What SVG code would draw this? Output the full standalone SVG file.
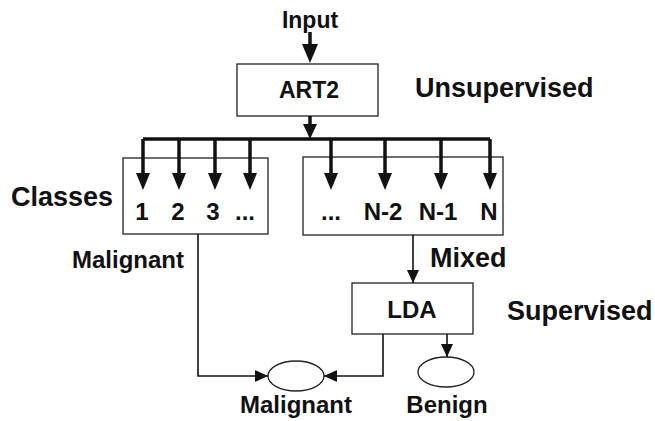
<svg xmlns="http://www.w3.org/2000/svg" width="655" height="421" viewBox="0 0 655 421">
  <style>
    text { font-family: "Liberation Sans", Arial, sans-serif; font-weight: bold; fill: #111; }
    .box { fill: #fff; stroke: #222; stroke-width: 1.3; }
    .thick { stroke: #111; stroke-width: 3.5; fill: none; }
    .thin { stroke: #111; stroke-width: 1.6; fill: none; }
    .head { fill: #111; }
    .lbl { font-size: 27px; }
    .num { font-size: 24px; text-anchor: middle; }
  </style>
  <defs>
    <marker id="small" markerUnits="userSpaceOnUse" markerWidth="14" markerHeight="14" refX="13" refY="6" orient="auto" viewBox="0 0 14 12">
      <path d="M0,0 L13,6 L0,12 Z" class="head"/>
    </marker>
  </defs>

  <g id="input">
    <text x="310" y="28" text-anchor="middle" font-size="23">Input</text>
  </g>

  <g id="art2">
    <rect x="237" y="64" width="141" height="52" class="box"/>
    <text x="309" y="98" text-anchor="middle" font-size="23">ART2</text>
  </g>

  <g id="unsupervised">
    <text x="415" y="97" class="lbl">Unsupervised</text>
  </g>

  <g id="classes-label">
    <text x="11" y="206" class="lbl">Classes</text>
  </g>

  <g id="classes-left">
    <rect x="123" y="158" width="145" height="76" class="box"/>
    <text x="142" y="220" class="num">1</text>
    <text x="178" y="220" class="num">2</text>
    <text x="213" y="220" class="num">3</text>
    <text x="245" y="220" class="num">...</text>
  </g>

  <g id="classes-right">
    <rect x="303" y="157" width="200" height="78" class="box"/>
    <text x="331" y="220" class="num">...</text>
    <text x="383" y="220" class="num">N-2</text>
    <text x="438" y="220" class="num">N-1</text>
    <text x="489" y="220" class="num">N</text>
  </g>

  <g id="malignant-label">
    <text x="72" y="268" font-size="24">Malignant</text>
  </g>

  <g id="mixed-label">
    <text x="430" y="267" class="lbl">Mixed</text>
  </g>

  <g id="lda">
    <rect x="352" y="283" width="121" height="51" class="box"/>
    <text x="412" y="318" text-anchor="middle" font-size="24">LDA</text>
  </g>

  <g id="supervised">
    <text x="507" y="320" class="lbl">Supervised</text>
  </g>

  <g id="malignant-out">
    <ellipse cx="296" cy="376" rx="28" ry="15" class="box"/>
    <text x="296" y="413" text-anchor="middle" font-size="24">Malignant</text>
  </g>

  <g id="benign-out">
    <ellipse cx="446" cy="372" rx="28" ry="15" class="box"/>
    <text x="447" y="413" text-anchor="middle" font-size="24">Benign</text>
  </g>

  <g id="connectors">
    <!-- Input arrow -->
    <path d="M310,32 V45" class="thick"/>
    <path d="M302,44 L318,44 L310,63 Z" class="head"/>
    <!-- ART2 to bus -->
    <path d="M310,116 V126" class="thick"/>
    <path d="M303,124 L317,124 L310,139 Z" class="head"/>
    <!-- bus -->
    <path d="M143,139 H490" class="thick"/>
    <!-- class arrows -->
    <g class="thick">
      <path d="M143,139 V175"/>
      <path d="M179,139 V175"/>
      <path d="M215,139 V175"/>
      <path d="M250,139 V175"/>
      <path d="M331,139 V175"/>
      <path d="M385,139 V175"/>
      <path d="M441,139 V175"/>
      <path d="M490,139 V175"/>
    </g>
    <g class="head">
      <path d="M136,173 L150,173 L143,190 Z"/>
      <path d="M172,173 L186,173 L179,190 Z"/>
      <path d="M208,173 L222,173 L215,190 Z"/>
      <path d="M243,173 L257,173 L250,190 Z"/>
      <path d="M324,173 L338,173 L331,190 Z"/>
      <path d="M378,173 L392,173 L385,190 Z"/>
      <path d="M434,173 L448,173 L441,190 Z"/>
      <path d="M483,173 L497,173 L490,190 Z"/>
    </g>
    <!-- Malignant classes to Malignant ellipse -->
    <path d="M198,234 V376 H268" class="thin" marker-end="url(#small)"/>
    <!-- Mixed to LDA -->
    <path d="M413,235 V283" class="thin" marker-end="url(#small)"/>
    <!-- LDA to Malignant -->
    <path d="M383,334 V376 H324" class="thin" marker-end="url(#small)"/>
    <!-- LDA to Benign -->
    <path d="M447,334 V357" class="thin" marker-end="url(#small)"/>
  </g>
</svg>
